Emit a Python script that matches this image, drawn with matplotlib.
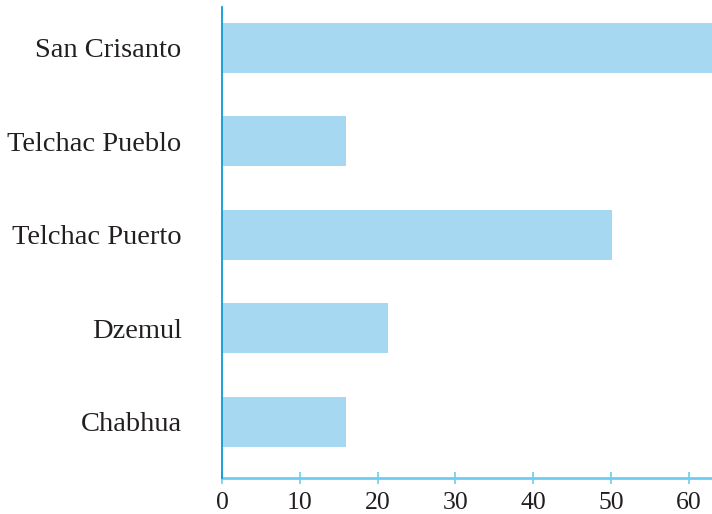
import matplotlib.pyplot as plt
import numpy as np

# data, bottom to top
towns = ['Chabhua', 'Dzemul', 'Telchac Puerto', 'Telchac Pueblo', 'San Crisanto']
values = [15.9, 21.3, 50.1, 15.9, 64]
xticks = [0, 10, 20, 30, 40, 50, 60]

bar_color = '#a6d9f1'
yaxis_color = '#0a9bd6'
xaxis_color = '#6dcdee'
text_color = '#231f20'

plt.rcParams['font.family'] = ['Liberation Serif', 'DejaVu Serif']

fig = plt.figure(figsize=(7.12, 5.14), dpi=100)
ax = fig.add_axes([0.3118, 0.070, 0.6882, 0.916])

pos = np.arange(len(towns))
ax.barh(pos, values, height=0.535, color=bar_color, zorder=1)

ax.set_xlim(0, 63)
ax.set_ylim(-0.60, 4.435)

ax.set_yticks(pos)
ax.set_yticklabels(towns, fontsize=20.5, color=text_color)
ax.tick_params(axis='y', length=0, pad=29)

ax.set_xticks(xticks)
ax.set_xticklabels([str(t) for t in xticks], fontsize=18.5, color=text_color)
ax.tick_params(axis='x', direction='inout', length=8, width=1.2,
               color=xaxis_color, pad=6)

for side in ['top', 'right']:
    ax.spines[side].set_visible(False)
ax.spines['left'].set_color(yaxis_color)
ax.spines['left'].set_linewidth(1.3)
ax.spines['left'].set_zorder(3)
ax.spines['bottom'].set_color(xaxis_color)
ax.spines['bottom'].set_linewidth(2.0)
ax.spines['bottom'].set_bounds(0, 63)

fig.savefig('out.png', dpi=100)
